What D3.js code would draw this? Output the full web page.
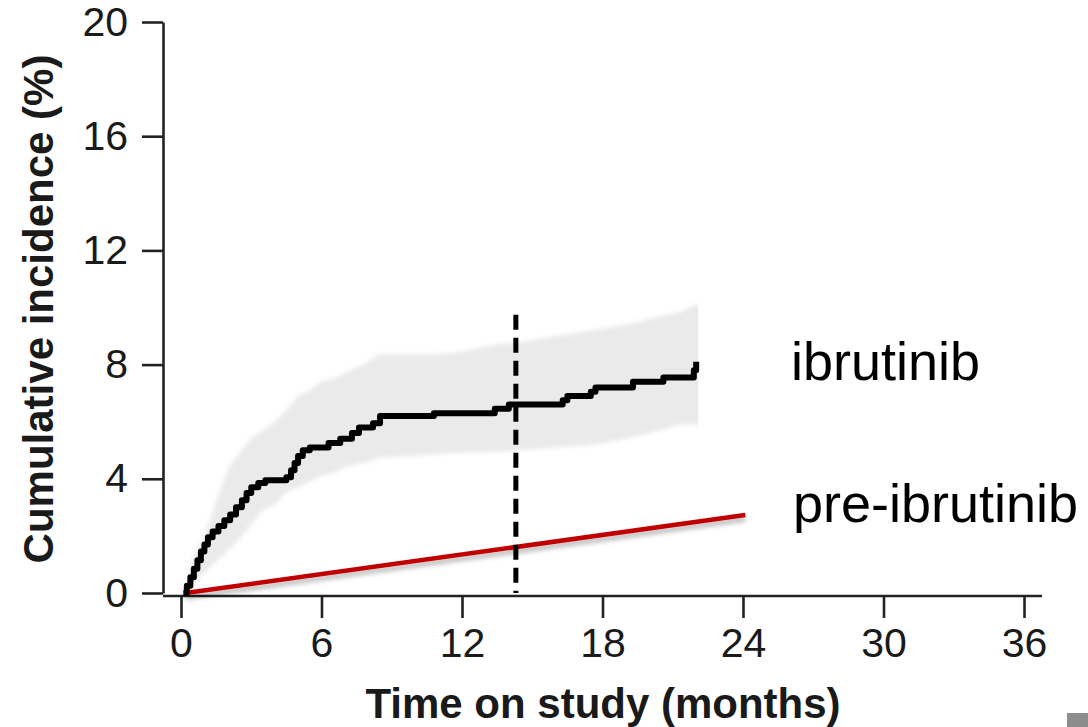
<!DOCTYPE html>
<html>
<head>
<meta charset="utf-8">
<script src="https://cdn.jsdelivr.net/npm/d3@7"></script>
<style>
  body { margin: 0; background: #fff; }
  svg { display: block; font-family: "Liberation Sans", Arial, sans-serif; }
</style>
</head>
<body>
<script>
var width = 1088,
    height = 727;

// ibrutinib cumulative incidence (step curve)
var ibrTime  = [0.1, 0.25, 0.4, 0.55, 0.7, 0.85, 1.0, 1.15, 1.35, 1.6, 1.85, 2.1, 2.35, 2.6, 2.8, 3.0, 3.3, 3.6, 4.5, 4.7, 4.85, 5.0, 5.2, 5.5, 6.3, 6.8, 7.3, 7.6, 8.2, 8.5, 10.8, 13.4, 14.0, 16.3, 16.5, 17.5, 17.7, 19.3, 20.6, 21.9, 22.0];
var ibrValue = [0, 0.25, 0.55, 0.85, 1.15, 1.45, 1.7, 1.95, 2.15, 2.35, 2.55, 2.75, 3.0, 3.25, 3.5, 3.7, 3.85, 3.95, 4.05, 4.3, 4.55, 4.8, 5.0, 5.1, 5.25, 5.4, 5.6, 5.8, 5.95, 6.2, 6.3, 6.45, 6.6, 6.75, 6.9, 7.05, 7.2, 7.4, 7.55, 7.8, 8.1];

// confidence band
var bandTime  = [0.1, 0.5, 1.0, 1.5, 2.0, 2.5, 3.0, 3.5, 4.0, 4.5, 5.0, 5.5, 6.0, 6.5, 7.0, 7.5, 8.0, 8.5, 10.0, 11.5, 13.5, 14.5, 16.0, 17.6, 19.5, 20.5, 21.5, 22.0, 22.5];
var bandLower = [0, 0.3, 0.7, 1.1, 1.5, 1.9, 2.4, 2.9, 3.1, 3.5, 3.7, 3.9, 4.1, 4.2, 4.4, 4.5, 4.6, 4.75, 4.8, 4.9, 4.95, 5.0, 5.1, 5.2, 5.5, 5.7, 5.9, 5.9, 5.9];
var bandUpper = [0, 1.2, 2.0, 3.2, 4.3, 4.9, 5.4, 5.7, 6.0, 6.4, 6.9, 7.1, 7.4, 7.5, 7.7, 7.9, 8.1, 8.35, 8.35, 8.4, 8.7, 8.8, 9.0, 9.2, 9.5, 9.7, 9.9, 10.1, 10.1];
var bandEnd = 22.0;

// pre-ibrutinib reference line
var preTime  = [0.2, 24.1];
var preValue = [0, 2.73];

// vertical dashed marker
var markTime = 14.3,
    markTop = 9.75;

var xTicks = [0, 6, 12, 18, 24, 30, 36];
var yTicks = [0, 4, 8, 12, 16, 20];

var x = d3.scaleLinear().domain([0, 36]).range([181, 1024]);
var y = d3.scaleLinear().domain([0, 20]).range([593, 22]);

var svg = d3.select("body").append("svg")
    .attr("width", width)
    .attr("height", height);

var defs = svg.append("defs");
defs.append("filter")
    .attr("id", "shadow")
    .attr("x", "-5%").attr("y", "-50%")
    .attr("width", "110%").attr("height", "300%")
  .append("feDropShadow")
    .attr("dx", 0).attr("dy", 4)
    .attr("stdDeviation", 2.5)
    .attr("flood-color", "#000")
    .attr("flood-opacity", 0.3);
defs.append("filter")
    .attr("id", "soft")
  .append("feGaussianBlur")
    .attr("stdDeviation", 2);
defs.append("clipPath")
    .attr("id", "bandclip")
  .append("rect")
    .attr("x", 0).attr("y", 0)
    .attr("width", x(bandEnd) + 2)
    .attr("height", height);

// band
var band = d3.area()
    .x(function(d) { return x(d[0]); })
    .y0(function(d) { return y(d[1]); })
    .y1(function(d) { return y(d[2]); })
    .curve(d3.curveMonotoneX);

svg.append("g")
    .attr("clip-path", "url(#bandclip)")
  .append("path")
    .datum(bandTime.map(function(t, i) { return [t, bandLower[i], bandUpper[i]]; }))
    .attr("d", band)
    .attr("fill", "#eaeaea")
    .attr("filter", "url(#soft)");

// axes
var yAxis = d3.axisLeft(y).tickValues(yTicks).tickSize(21).tickSizeOuter(0).tickPadding(14);
var gy = svg.append("g")
    .attr("transform", "translate(163,0)")
    .call(yAxis);
gy.select(".domain").attr("stroke", "#222").attr("stroke-width", 2.6);
gy.selectAll(".tick line").attr("stroke", "#222").attr("stroke-width", 2.6);
gy.selectAll(".tick text")
    .attr("font-size", 41)
    .attr("fill", "#1a1a1a")
    .attr("font-family", "Liberation Sans, Arial, sans-serif");

var xAxis = d3.axisBottom(x).tickValues(xTicks).tickSize(22).tickSizeOuter(0).tickPadding(10);
var gx = svg.append("g")
    .attr("transform", "translate(0,596)")
    .call(xAxis);
gx.select(".domain").remove();
gx.append("line")
    .attr("x1", 163).attr("x2", 1042)
    .attr("y1", 0).attr("y2", 0)
    .attr("stroke", "#222")
    .attr("stroke-width", 2.6);
gx.selectAll(".tick line").attr("stroke", "#222").attr("stroke-width", 2.6);
gx.selectAll(".tick text")
    .attr("font-size", 41)
    .attr("fill", "#1a1a1a")
    .attr("font-family", "Liberation Sans, Arial, sans-serif");

// axis titles
svg.append("text")
    .attr("transform", "translate(53,309) rotate(-90)")
    .attr("text-anchor", "middle")
    .attr("font-size", 42)
    .attr("font-weight", "bold")
    .attr("fill", "#1a1a1a")
    .text("Cumulative incidence (%)");

svg.append("text")
    .attr("x", 603)
    .attr("y", 718)
    .attr("text-anchor", "middle")
    .attr("font-size", 42)
    .attr("font-weight", "bold")
    .attr("fill", "#1a1a1a")
    .text("Time on study (months)");

// pre-ibrutinib line
var lineFn = d3.line()
    .x(function(d) { return x(d[0]); })
    .y(function(d) { return y(d[1]); });

svg.append("path")
    .datum(preTime.map(function(t, i) { return [t, preValue[i]]; }))
    .attr("d", lineFn)
    .attr("fill", "none")
    .attr("stroke", "#c00000")
    .attr("stroke-width", 4.5)
    .attr("filter", "url(#shadow)");

// ibrutinib step curve
svg.append("path")
    .datum(ibrTime.map(function(t, i) { return [t, ibrValue[i]]; }))
    .attr("d", lineFn.curve(d3.curveStepAfter))
    .attr("fill", "none")
    .attr("stroke", "#000")
    .attr("stroke-width", 6)
    .attr("stroke-linejoin", "round");

// dashed marker
svg.append("line")
    .attr("x1", x(markTime)).attr("x2", x(markTime))
    .attr("y1", y(markTop)).attr("y2", y(0))
    .attr("stroke", "#000")
    .attr("stroke-width", 5)
    .attr("stroke-dasharray", "15,8");

// labels
svg.append("text")
    .attr("x", 791)
    .attr("y", 380)
    .attr("font-size", 54)
    .attr("fill", "#000")
    .text("ibrutinib");

svg.append("text")
    .attr("x", 793)
    .attr("y", 522)
    .attr("font-size", 54)
    .attr("fill", "#000")
    .text("pre-ibrutinib");

// grey corner mark
svg.append("rect")
    .attr("x", 1067).attr("y", 713)
    .attr("width", 21).attr("height", 14)
    .attr("fill", "#8c8c8c");
</script>
</body>
</html>
